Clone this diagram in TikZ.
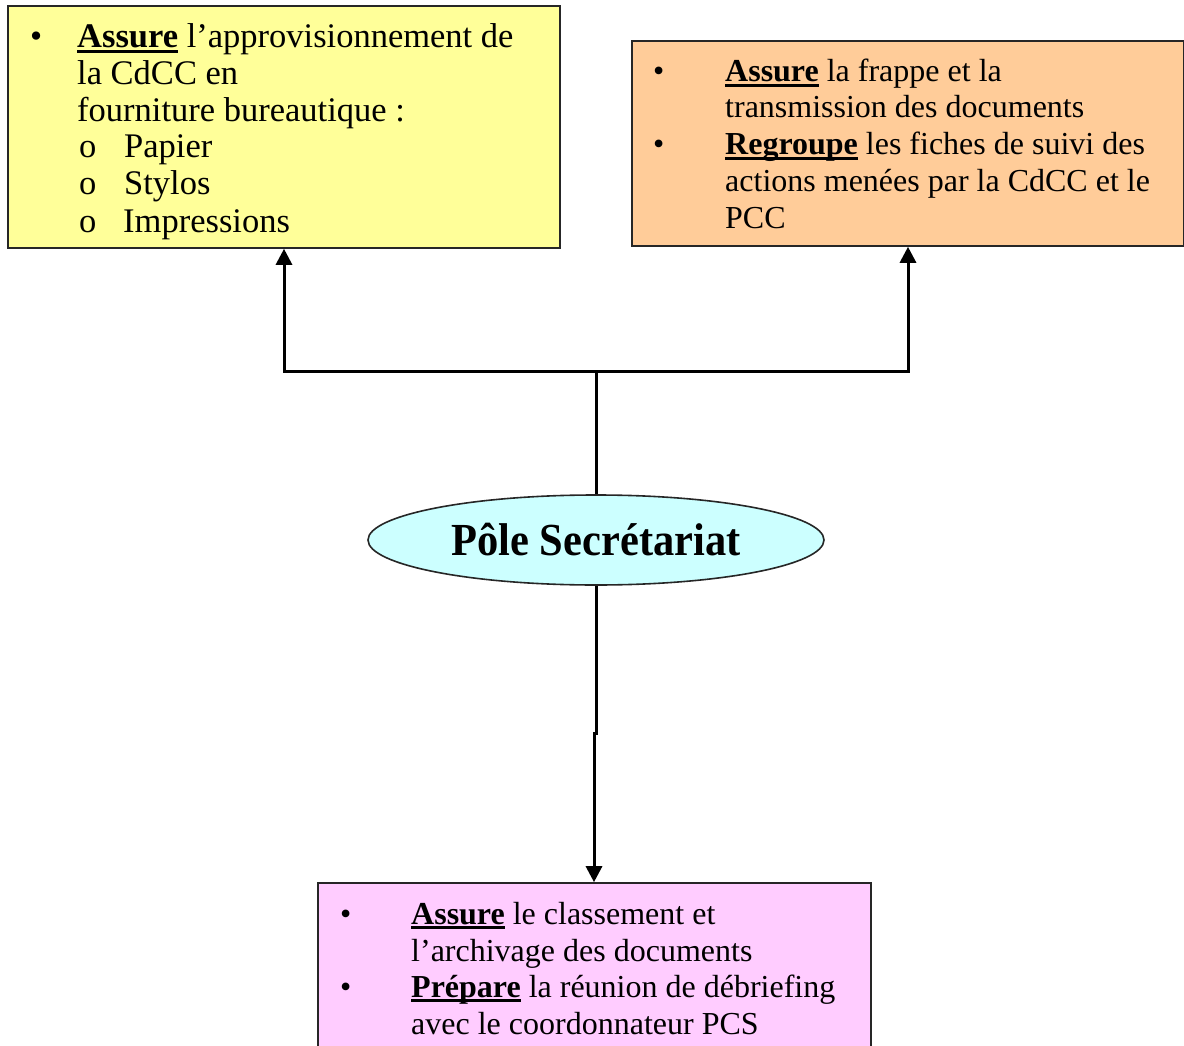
\documentclass[tikz,border=0pt]{standalone}
\usepackage{fontspec}
\setmainfont{Liberation Serif}
\usetikzlibrary{arrows.meta,shapes.geometric}
\definecolor{boxyellow}{HTML}{FFFF99}
\definecolor{boxorange}{HTML}{FFCC99}
\definecolor{boxpink}{HTML}{FFCCFF}
\definecolor{polecyan}{HTML}{CCFFFF}
% bold word with a heavy underline just below the baseline
\newcommand\ubold[1]{\setbox0\hbox{\bfseries #1}\rlap{\rule[-5pt]{\wd0}{2.8pt}}\box0\relax}
\begin{document}
\begin{tikzpicture}[x=1pt,y=-1pt,
  taskbox/.style={draw=black!85,line width=1.6pt,rectangle,inner sep=0pt},
  txt/.style={anchor=base west,inner sep=0pt,font=\fontsize{34.5}{36.8}\selectfont},
  stxt/.style={anchor=base west,inner sep=0pt,font=\fontsize{32}{36.8}\selectfont},
  link/.style={line width=3pt,line join=miter},
  arr/.style={link,-{Triangle[length=16pt,width=16pt]}}]
\useasboundingbox (0,0) rectangle (1184,1046);

% boxes
\node[taskbox,fill=boxyellow,minimum width=552,minimum height=242] (yb) at (284,127) {};
\node[taskbox,fill=boxorange,minimum width=552,minimum height=205] (ob) at (908,143.5) {};
\node[taskbox,fill=boxpink,minimum width=553,minimum height=180] (pb) at (594.5,973) {};

% central pole
\node[ellipse,draw=black!85,line width=1.6pt,fill=polecyan,minimum width=456,minimum height=90,inner sep=0pt,
      font=\fontsize{42.5}{46}\selectfont\bfseries] (pole) at (596,540) {\scalebox{1}[1.08]{Pôle Secrétariat}};

% yellow box text
\node[txt] (y0) at (30,48) {•};
\node[txt] (y1) at (77,48) {\ubold{Assure} l’approvisionnement de};
\node[txt] (y2) at (77,85) {la CdCC en};
\node[txt] (y3) at (77,122) {fourniture bureautique :};
\node[txt] (y4o) at (79,158) {o};
\node[txt] (y4) at (124,158) {Papier};
\node[txt] (y5o) at (79,195) {o};
\node[txt] (y5) at (124,195) {Stylos};
\node[txt] (y6o) at (79,232) {o};
\node[txt] (y6) at (123,232) {Impressions};

% orange box text
\node[stxt] (o0) at (653,82) {•};
\node[stxt] (o1) at (725,82) {\ubold{Assure} la frappe et la};
\node[stxt] (o2) at (725,118) {transmission des documents};
\node[stxt] (o3b) at (653,155) {•};
\node[stxt] (o3) at (725,155) {\ubold{Regroupe} les fiches de suivi des};
\node[stxt] (o4) at (725,192) {actions menées par la CdCC et le};
\node[stxt] (o5) at (725,228) {PCC};

% pink box text
\node[stxt] (p0) at (340,924) {•};
\node[stxt] (p1) at (411,924) {\ubold{Assure} le classement et};
\node[stxt] (p2) at (411,961) {l’archivage des documents};
\node[stxt] (p3b) at (340,997) {•};
\node[stxt] (p3) at (411,997) {\ubold{Prépare} la réunion de débriefing};
\node[stxt] (p4) at (411,1034) {avec le coordonnateur PCS};

% connectors
\coordinate (fork) at (596,371);
\coordinate (lx) at (284,0);
\coordinate (rx) at (908,0);
\coordinate (k1) at (596,733);
\coordinate (k2) at (594,733);
\draw[link] (pole.north) -- (fork);
\draw[arr] (fork) -| (lx |- yb.south);
\draw[arr] (fork) -| (rx |- ob.south);
\draw[arr] (pole.south) -- (k1) -- (k2) -- (k2 |- pb.north);
\end{tikzpicture}
\end{document}
